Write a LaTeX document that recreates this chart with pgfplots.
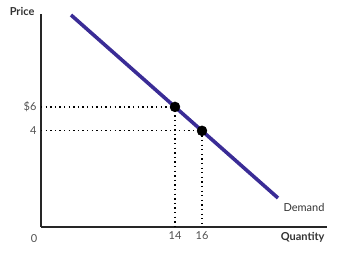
\documentclass[border=0pt]{standalone}
\usepackage{pgfplots}
\pgfplotsset{compat=1.18}
\usepackage{fontspec}
\setmainfont{Lato}
\definecolor{demand}{RGB}{58,44,150}
\definecolor{ticklab}{RGB}{80,80,80}
\begin{document}
\begin{tikzpicture}
\useasboundingbox (-41pt,-29pt) rectangle (301pt,227pt);
\begin{axis}[
  at={(0,0)}, anchor=south west,
  scale only axis, width=286pt, height=213pt,
  xmin=0, xmax=286, ymin=0, ymax=213,
  axis x line=bottom, axis y line=left,
  axis line style={line width=1.3pt, color=black!85, -},
  xtick={134,161}, xticklabels={14,16},
  ytick={96.2,120.1}, yticklabels={4,\$6},
  major tick length=0pt,
  tick label style={font=\fontsize{11}{12}\selectfont, text=ticklab},
  xticklabel style={yshift=-1pt},
  yticklabel style={xshift=-1pt},
  clip=false,
]
\addplot[demand, line width=3.6pt] coordinates {(30,212) (237,29)};
\addplot[black, line width=1.3pt, dash pattern=on 1.3pt off 3.3pt] coordinates {(0,120.1) (134,120.1) (134,0)};
\addplot[black, line width=1.3pt, dash pattern=on 1.3pt off 3.3pt] coordinates {(0,96.2) (161,96.2) (161,0)};
\addplot[only marks, mark=*, mark size=5pt, black] coordinates {(134,120.1) (161,96.2)};
\node[font=\fontsize{11}{12}\selectfont, text=ticklab] at (axis cs:-7,-12) {0};
\node[font=\bfseries\fontsize{11}{12}\selectfont, text=black!80, anchor=east] at (axis cs:-3,216) {Price};
\node[font=\bfseries\fontsize{11}{12}\selectfont, text=black!80, anchor=east] at (axis cs:287,-10) {Quantity};
\node[font=\fontsize{11}{12}\selectfont, text=black!80, anchor=east] at (axis cs:287,20) {Demand};
\end{axis}
\end{tikzpicture}
\end{document}
